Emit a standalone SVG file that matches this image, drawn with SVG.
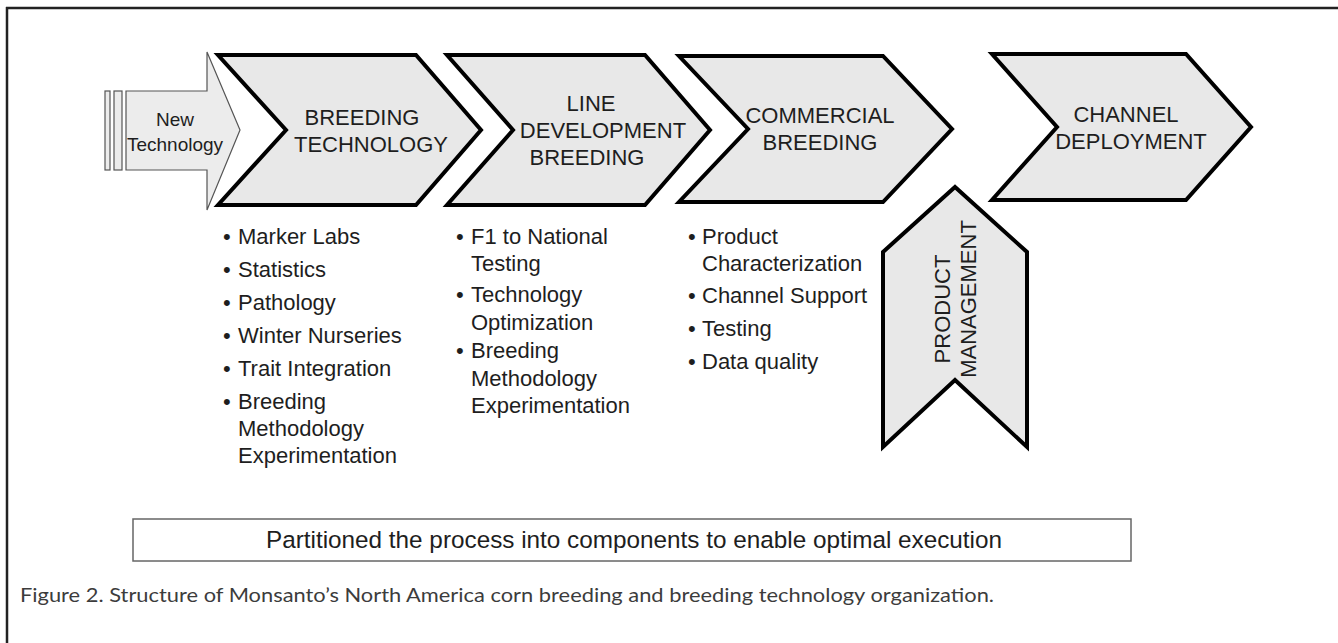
<svg xmlns="http://www.w3.org/2000/svg" width="1338" height="643" viewBox="0 0 1338 643">
<style>
.chev{fill:#e8e8e8;stroke:#000;stroke-width:4;stroke-linejoin:miter}
.t{font-family:"Liberation Sans",Arial,sans-serif;font-size:22px;fill:#1e1e1e}
.ttl{text-anchor:middle}
.nt{font-family:"Liberation Sans",Arial,sans-serif;font-size:19px;fill:#1e1e1e;text-anchor:middle}
.cap{font-family:Lato,"Noto Sans",sans-serif;font-size:20px;fill:#3c3c3c}
</style>
<rect width="1338" height="643" fill="#fff"/>
<g id="frame" stroke="#222" stroke-width="2.5" fill="none">
<line x1="6" y1="8" x2="1338" y2="8"/>
<line x1="7" y1="7" x2="7" y2="643"/>
</g>
<g id="new-technology">
<rect x="105" y="91" width="5" height="79" fill="#ececec" stroke="#555" stroke-width="1.2"/>
<rect x="114" y="91" width="8" height="79" fill="#ececec" stroke="#555" stroke-width="1.2"/>
<polygon points="126,91 207,91 207,52 240,130 207,210 207,170 126,170" fill="#ececec" stroke="#555" stroke-width="1.2"/>
<text class="nt" x="175" y="126">New</text>
<text class="nt" x="175" y="151">Technology</text>
</g>
<g id="breeding-technology">
<polygon class="chev" points="218,55 416,55 481,130 416,205 218,205 286,130"/>
<text class="t ttl" x="362" y="125">BREEDING</text>
<text class="t ttl" x="371" y="152">TECHNOLOGY</text>
</g>
<g id="line-development">
<polygon class="chev" points="447,55 645,55 710,130 645,205 447,205 513,130"/>
<text class="t ttl" x="591" y="111">LINE</text>
<text class="t ttl" x="603" y="138">DEVELOPMENT</text>
<text class="t ttl" x="587" y="165">BREEDING</text>
</g>
<g id="commercial-breeding">
<polygon class="chev" points="679,56 883,56 952,129 883,202 679,202 748,129"/>
<text class="t ttl" x="820" y="123">COMMERCIAL</text>
<text class="t ttl" x="820" y="150">BREEDING</text>
</g>
<g id="channel-deployment">
<polygon class="chev" points="992,54 1186,54 1251,127 1186,200 992,200 1057,127"/>
<text class="t ttl" x="1126" y="122">CHANNEL</text>
<text class="t ttl" x="1131" y="149">DEPLOYMENT</text>
</g>
<g id="product-management">
<polygon class="chev" points="883,252 955,187 1027,252 1027,447 955,380 883,447"/>
<text class="t ttl" transform="translate(950,309) rotate(-90)">PRODUCT</text>
<text class="t ttl" transform="translate(976,299) rotate(-90)">MANAGEMENT</text>
</g>
<g id="list-breeding-technology" class="t">
<text x="223" y="244">•</text><text x="238" y="244">Marker Labs</text>
<text x="223" y="277">•</text><text x="238" y="277">Statistics</text>
<text x="223" y="310">•</text><text x="238" y="310">Pathology</text>
<text x="223" y="343">•</text><text x="238" y="343">Winter Nurseries</text>
<text x="223" y="376">•</text><text x="238" y="376">Trait Integration</text>
<text x="223" y="409">•</text><text x="238" y="409">Breeding</text>
<text x="238" y="436">Methodology</text>
<text x="238" y="463">Experimentation</text>
</g>
<g id="list-line-development" class="t">
<text x="456" y="244">•</text><text x="471" y="244">F1 to National</text>
<text x="471" y="271">Testing</text>
<text x="456" y="302">•</text><text x="471" y="302">Technology</text>
<text x="471" y="330">Optimization</text>
<text x="456" y="358">•</text><text x="471" y="358">Breeding</text>
<text x="471" y="386">Methodology</text>
<text x="471" y="413">Experimentation</text>
</g>
<g id="list-commercial-breeding" class="t">
<text x="688" y="244">•</text><text x="702" y="244">Product</text>
<text x="702" y="271">Characterization</text>
<text x="688" y="303">•</text><text x="702" y="303">Channel Support</text>
<text x="688" y="336">•</text><text x="702" y="336">Testing</text>
<text x="688" y="369">•</text><text x="702" y="369">Data quality</text>
</g>
<g id="summary-box">
<rect x="133" y="519" width="998" height="42" fill="#fff" stroke="#666" stroke-width="1.5"/>
<text class="t" x="634" y="548" text-anchor="middle" style="font-size:24.3px">Partitioned the process into components to enable optimal execution</text>
</g>
<text class="cap" x="20" y="602" textLength="974" lengthAdjust="spacingAndGlyphs">Figure 2. Structure of Monsanto’s North America corn breeding and breeding technology organization.</text>
</svg>
